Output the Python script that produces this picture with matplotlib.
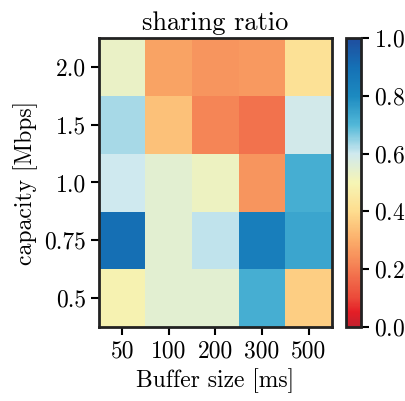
import matplotlib
matplotlib.use("Agg")
import matplotlib.pyplot as plt
from matplotlib.colors import LinearSegmentedColormap
import numpy as np

plt.rcParams['font.family'] = 'serif'
plt.rcParams['font.serif'] = ['cmr10']
plt.rcParams['mathtext.fontset'] = 'cm'
plt.rcParams['axes.formatter.use_mathtext'] = True

buffers = ['50', '100', '200', '300', '500']
capacities = ['0.5', '0.75', '1.0', '1.5', '2.0']

# rows bottom -> top (capacity), columns = buffer size
ratio = np.array([
    [0.49, 0.55, 0.55, 0.72, 0.37],
    [0.90, 0.55, 0.61, 0.84, 0.74],
    [0.60, 0.55, 0.52, 0.25, 0.72],
    [0.63, 0.34, 0.22, 0.18, 0.59],
    [0.53, 0.28, 0.25, 0.26, 0.42],
])

# colour scale sampled from the reference colorbar
cmap_pos = [0.0, 0.05, 0.1, 0.2, 0.3, 0.4, 0.5, 0.6, 0.7, 0.8, 0.9, 1.0]
cmap_col = ['#c2202e', '#e41e26', '#eb4a3a', '#f47c52', '#fbae6a', '#fedd8f',
            '#f6f5b5', '#cfe9ef', '#52b8d8', '#1c8ac0', '#1570b5', '#1f4e9f']
cmap = LinearSegmentedColormap.from_list('share', list(zip(cmap_pos, cmap_col)))

fig = plt.figure(figsize=(4.06, 4.01), dpi=100)
ax = fig.add_axes([99/406, 1-327/401, (332-99)/406, (327-38)/401])
cax = fig.add_axes([346/406, 1-327/401, 15/406, (327-38)/401])

im = ax.imshow(ratio, cmap=cmap, vmin=0, vmax=1, origin='lower', aspect='auto')
ax.set_xticks(range(len(buffers)))
ax.set_xticklabels(buffers)
ax.set_yticks(range(len(capacities)))
ax.set_yticklabels(capacities)
ax.set_xlabel('Buffer size [ms]', fontsize=17)
ax.set_ylabel('capacity [Mbps]', fontsize=17)
ax.set_title('sharing ratio', fontsize=19)
ax.tick_params(labelsize=17, length=6, width=1.5)
for s in ax.spines.values():
    s.set_linewidth(2)
    s.set_color('#222222')

cb = fig.colorbar(im, cax=cax)
cb.set_ticks([0.0, 0.2, 0.4, 0.6, 0.8, 1.0])
cb.ax.tick_params(labelsize=17, length=6, width=1.5)
cb.outline.set_linewidth(2)
cb.outline.set_edgecolor('#222222')

fig.savefig('out.png', dpi=100)
